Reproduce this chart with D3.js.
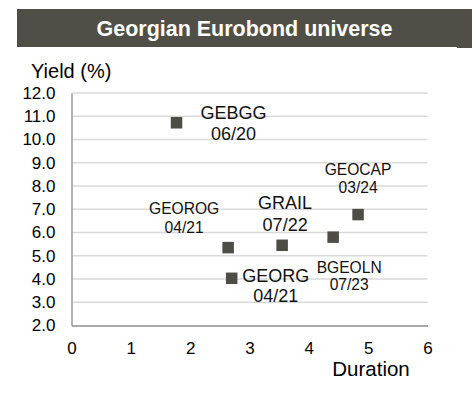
<!DOCTYPE html>
<html>
<head>
<meta charset="utf-8">
<script src="https://cdn.jsdelivr.net/npm/d3@7"></script>
<style>
  body { margin: 0; background: #fff; }
  text { font-family: "Liberation Sans", Arial, sans-serif; }
</style>
</head>
<body>
<div id="chart"></div>
<script>
// bond data
const bonds = ["GEBGG", "GEOROG", "GEORG", "GRAIL", "BGEOLN", "GEOCAP"];
const maturities = ["06/20", "04/21", "04/21", "07/22", "07/23", "03/24"];
const durations = [1.77, 2.64, 2.70, 3.55, 4.41, 4.83];
const yields = [10.72, 5.35, 4.03, 5.45, 5.80, 6.77];

const xTicks = [0, 1, 2, 3, 4, 5, 6];
const yTicks = [2, 3, 4, 5, 6, 7, 8, 9, 10, 11, 12];

// label placement relative to each marker (pixels)
const labelLayout = [
  { dx: 57, dy: -3.5, lh: 21, size: 18 },
  { dx: -44, dy: -33.5, lh: 19.3, size: 15.6 },
  { dx: 44, dy: 3.4, lh: 20, size: 18 },
  { dx: 3, dy: -36, lh: 21.4, size: 18 },
  { dx: 16, dy: 35.5, lh: 17.3, size: 15.6 },
  { dx: 0, dy: -39.5, lh: 17.7, size: 15.6 }
];

const W = 475, H = 412;
const plot = { left: 71.5, right: 427.5, top: 93, bottom: 325.5 };

const svg = d3.select("#chart").append("svg")
  .attr("width", W)
  .attr("height", H);

// title bar
svg.append("rect")
  .attr("x", 17).attr("y", 9)
  .attr("width", 455).attr("height", 38)
  .attr("fill", "#4f4f47");
svg.append("rect")
  .attr("x", 457).attr("y", 45)
  .attr("width", 15).attr("height", 3)
  .attr("fill", "#4f4f47");
svg.append("text")
  .attr("x", 244.5).attr("y", 36)
  .attr("text-anchor", "middle")
  .attr("fill", "#fff")
  .attr("font-weight", "bold")
  .attr("font-size", 22)
  .attr("textLength", 296)
  .attr("lengthAdjust", "spacingAndGlyphs")
  .text("Georgian Eurobond universe");

const x = d3.scaleLinear().domain([0, 6]).range([plot.left, plot.right]);
const y = d3.scaleLinear().domain([2, 12]).range([plot.bottom, plot.top]);

// gridlines
svg.append("g")
  .selectAll("line")
  .data(yTicks.slice(1))
  .enter().append("line")
  .attr("x1", plot.left).attr("x2", plot.right)
  .attr("y1", d => y(d)).attr("y2", d => y(d))
  .attr("stroke", "#d9d9d9")
  .attr("stroke-width", 1.5);

// y axis
const yAxis = svg.append("g")
  .attr("transform", `translate(${plot.left},0)`)
  .call(d3.axisLeft(y).tickValues(yTicks).tickFormat(d3.format(".1f")).tickSize(0).tickPadding(16));
yAxis.select(".domain").attr("stroke", "#8c8c8c").attr("stroke-width", 1.3);
yAxis.selectAll("text")
  .attr("font-size", 17)
  .attr("fill", "#000")
  .attr("font-family", "Liberation Sans, Arial, sans-serif");

// x axis
const xAxis = svg.append("g")
  .attr("transform", `translate(0,${plot.bottom})`)
  .call(d3.axisBottom(x).tickValues(xTicks).tickFormat(d3.format("d")).tickSize(0).tickPadding(16));
xAxis.select(".domain").attr("stroke", "#8c8c8c").attr("stroke-width", 1.3);
xAxis.selectAll("text")
  .attr("font-size", 17)
  .attr("fill", "#000")
  .attr("font-family", "Liberation Sans, Arial, sans-serif");

// axis titles
svg.append("text")
  .attr("x", 31).attr("y", 78)
  .attr("font-size", 20)
  .text("Yield (%)");
svg.append("text")
  .attr("x", 371).attr("y", 376)
  .attr("text-anchor", "middle")
  .attr("font-size", 20.5)
  .text("Duration");

// markers
const pts = bonds.map((b, i) => ({
  name: b, mat: maturities[i], dur: durations[i], yld: yields[i], lay: labelLayout[i]
}));

const sq = 11.5;
svg.append("g")
  .selectAll("rect")
  .data(pts)
  .enter().append("rect")
  .attr("x", d => x(d.dur) - sq / 2)
  .attr("y", d => y(d.yld) - sq / 2)
  .attr("width", sq).attr("height", sq)
  .attr("fill", "#4d4d45");

// labels
const labels = svg.append("g")
  .selectAll("text")
  .data(pts)
  .enter().append("text")
  .attr("text-anchor", "middle")
  .attr("font-size", d => d.lay.size)
  .attr("fill", "#111");

labels.append("tspan")
  .attr("x", d => x(d.dur) + d.lay.dx)
  .attr("y", d => y(d.yld) + d.lay.dy)
  .text(d => d.name);
labels.append("tspan")
  .attr("x", d => x(d.dur) + d.lay.dx)
  .attr("y", d => y(d.yld) + d.lay.dy + d.lay.lh)
  .text(d => d.mat);
</script>
</body>
</html>
